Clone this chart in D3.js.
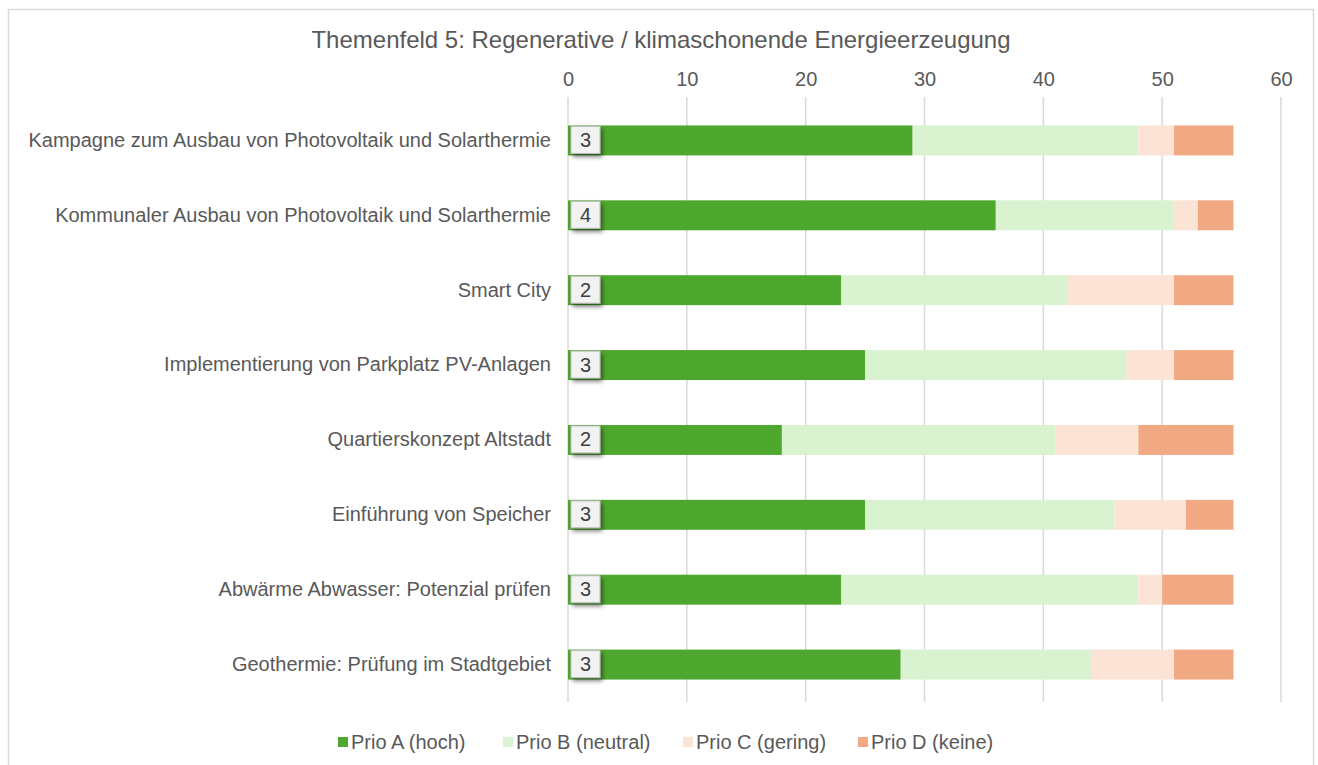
<!DOCTYPE html>
<html>
<head>
<meta charset="utf-8">
<script src="https://cdn.jsdelivr.net/npm/d3@7"></script>
<style>
  body { margin: 0; background: #fff; }
  svg text { font-family: "Liberation Sans", Arial, sans-serif; }
</style>
</head>
<body>
<div id="chart"></div>
<script>
// ------- Data -------
const categories = [
  "Kampagne zum Ausbau von Photovoltaik und Solarthermie",
  "Kommunaler Ausbau von Photovoltaik und Solarthermie",
  "Smart City",
  "Implementierung von Parkplatz PV-Anlagen",
  "Quartierskonzept Altstadt",
  "Einführung von Speicher",
  "Abwärme Abwasser: Potenzial prüfen",
  "Geothermie: Prüfung im Stadtgebiet"
]
const prioA = [29, 36, 23, 25, 18, 25, 23, 28]
const prioB = [19, 15, 19, 22, 23, 21, 25, 16]
const prioC = [3, 2, 9, 4, 7, 6, 2, 7]
const prioD = [5, 3, 5, 5, 8, 4, 6, 5]
const boxLabels = [3, 4, 2, 3, 2, 3, 3, 3]
const seriesNames = ["Prio A (hoch)", "Prio B (neutral)", "Prio C (gering)", "Prio D (keine)"]
const xTicks = [0, 10, 20, 30, 40, 50, 60]

const colors = ["#4ea72e", "#d9f2d0", "#fbe3d6", "#f1a983"]

const width = 1318, height = 765
const margin = {left: 568, right: 37, top: 103, bottom: 63}

const svg = d3.select("#chart").append("svg")
  .attr("width", width)
  .attr("height", height)

// chart border
svg.append("rect")
  .attr("x", 8.5).attr("y", 9.5)
  .attr("width", 1305).attr("height", 770)
  .attr("fill", "#fff")
  .attr("stroke", "#d9d9d9")
  .attr("stroke-width", 1.5)

svg.append("text")
  .attr("x", 661).attr("y", 48)
  .attr("text-anchor", "middle")
  .attr("font-size", 24)
  .attr("fill", "#595959")
  .text("Themenfeld 5: Regenerative / klimaschonende Energieerzeugung")

let xScale = d3.scaleLinear()
  .domain([0, 60])
  .range([margin.left, width - margin.right])

let yScale = d3.scaleBand()
  .domain(categories)
  .range([margin.top, height - margin.bottom])
  .paddingInner(0.6)
  .paddingOuter(0.3)

// gridlines
svg.append("g")
  .selectAll("line")
  .data(xTicks)
  .join("line")
  .attr("x1", d => xScale(d)).attr("x2", d => xScale(d))
  .attr("y1", 97).attr("y2", height - margin.bottom)
  .attr("stroke", "#d9d9d9")
  .attr("stroke-width", 1.5)

// top axis labels
let xAxis = svg.append("g")
  .attr("transform", "translate(0,86)")
  .call(d3.axisTop(xScale).tickValues(xTicks).tickSize(0).tickPadding(0))
xAxis.select(".domain").remove()
xAxis.selectAll("text")
  .attr("font-size", 20)
  .attr("fill", "#595959")
  .style("font-family", "Liberation Sans, Arial, sans-serif")

// category labels
let yAxis = svg.append("g")
  .attr("transform", `translate(${margin.left - 17},0)`)
  .call(d3.axisLeft(yScale).tickSize(0).tickPadding(0))
yAxis.select(".domain").remove()
yAxis.selectAll("text")
  .attr("font-size", 20)
  .attr("fill", "#595959")
  .style("font-family", "Liberation Sans, Arial, sans-serif")

// stack the data
let rows = categories.map((c, i) => ({
  cat: c, a: prioA[i], b: prioB[i], c: prioC[i], d: prioD[i]
}))
let stack = d3.stack().keys(["a", "b", "c", "d"])(rows)

svg.append("g")
  .selectAll("g")
  .data(stack)
  .join("g")
  .attr("fill", (d, i) => colors[i])
  .selectAll("rect")
  .data(d => d)
  .join("rect")
  .attr("x", d => xScale(d[0]))
  .attr("y", d => yScale(d.data.cat))
  .attr("width", d => xScale(d[1]) - xScale(d[0]))
  .attr("height", yScale.bandwidth())

// label boxes with shadow
let defs = svg.append("defs")
let filter = defs.append("filter").attr("id", "shadow")
  .attr("x", "-30%").attr("y", "-30%").attr("width", "180%").attr("height", "180%")
filter.append("feDropShadow")
  .attr("dx", 2).attr("dy", 3).attr("stdDeviation", 2)
  .attr("flood-color", "#000").attr("flood-opacity", 0.5)

let boxes = svg.append("g")
  .selectAll("g")
  .data(categories)
  .join("g")
  .attr("transform", d => `translate(${xScale(0) + 3},${yScale(d) + 1})`)

boxes.append("rect")
  .attr("width", 29).attr("height", yScale.bandwidth() - 3)
  .attr("fill", "#f2f2f2")
  .attr("stroke", "#bfbfbf")
  .attr("stroke-width", 1)
  .attr("filter", "url(#shadow)")

boxes.append("text")
  .attr("x", 14.5).attr("y", (yScale.bandwidth() - 3) / 2 + 7)
  .attr("text-anchor", "middle")
  .attr("font-size", 20)
  .attr("fill", "#404040")
  .text((d, i) => boxLabels[i])

// legend
const legendX = [338, 503, 683, 858]
let legend = svg.append("g")
  .selectAll("g")
  .data(seriesNames)
  .join("g")
  .attr("transform", (d, i) => `translate(${legendX[i]},742)`)

legend.append("rect")
  .attr("x", 0).attr("y", -5)
  .attr("width", 10).attr("height", 10)
  .attr("fill", (d, i) => colors[i])

legend.append("text")
  .attr("x", 13).attr("y", 7)
  .attr("font-size", 20)
  .attr("fill", "#595959")
  .text(d => d)
</script>
</body>
</html>
